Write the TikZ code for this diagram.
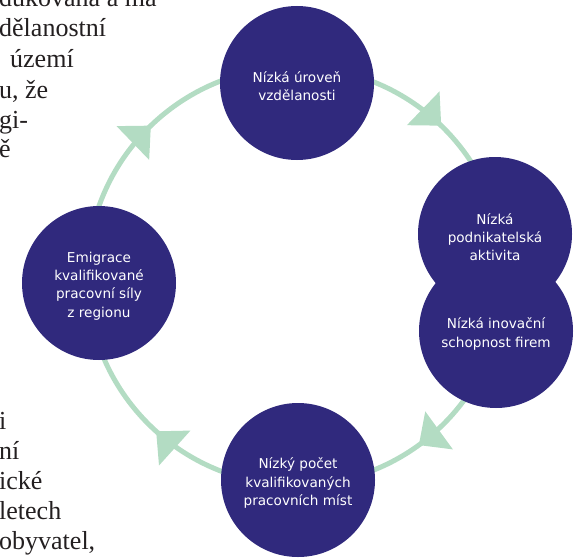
\documentclass[tikz,border=0pt]{standalone}
\usepackage{fontspec}
\setmainfont{Liberation Serif}
\newfontfamily\circfont{DejaVu Sans}
\definecolor{navy}{HTML}{30297D}
\definecolor{ringgreen}{HTML}{B3DCC3}
\definecolor{bodytext}{HTML}{231F20}
\tikzset{
  bubble/.style={circle, fill=navy, minimum size=154pt, inner sep=0pt},
  bubbletext/.style={text=white, align=center, yshift=-3pt, font=\circfont\fontsize{13.6}{18.3}\selectfont},
  ringline/.style={draw=ringgreen, line width=5pt},
  ringhead/.style={fill=ringgreen},
  pagetext/.style={text=bodytext, inner sep=0pt, anchor=base west, font=\fontsize{26}{30}\selectfont}
}
\begin{document}
\begin{tikzpicture}[x=1pt,y=1pt]
\useasboundingbox (0,0) rectangle (585,558);
\clip (0,0) rectangle (585,558);
% cut-off page text on the left
\node[pagetext] (t1) at (-1,551) {dukována a má};
\node[pagetext] (t2) at (-1,521) {dělanostní};
\node[pagetext] (t3) at (10,490) {území};
\node[pagetext] (t4) at (-1,459) {u, že};
\node[pagetext] (t5) at (-1,430) {gi-};
\node[pagetext] (t6) at (-1,401) {ě};
\node[pagetext] (b1) at (-1,129) {i};
\node[pagetext] (b2) at (-1,99) {ní};
\node[pagetext] (b3) at (-1,69) {ické};
\node[pagetext] (b4) at (-1,39) {letech};
\node[pagetext] (b5) at (-1,9) {obyvatel,};
% ring
\coordinate (ringc) at (296,282);
\draw[ringline] (ringc) circle[radius=209];
\foreach \a in {46,-54,-132,134}
  \fill[ringhead, shift={(ringc)}, rotate=\a] (209,0) -- (232.5,25) -- (185.5,25) -- cycle;
% circles
\node[bubble] (inov) at (496,227) {};
\node[bubble] (podnik) at (495,324) {};
\node[bubble] (top) at (297,475) {};
\node[bubble] (bottom) at (298,78) {};
\node[bubble] (left) at (99,275) {};
% texts
\node[bubbletext] at (top) {Nízká úroveň\\vzdělanosti};
\node[bubbletext] at (podnik) {Nízká\\podnikatelská\\aktivita};
\node[bubbletext] at (inov) {Nízká inovační\\schopnost firem};
\node[bubbletext] at (bottom) {Nízký počet\\kvalifikovaných\\pracovních míst};
\node[bubbletext] at (left) {Emigrace\\kvalifikované\\pracovní síly\\z regionu};
\end{tikzpicture}
\end{document}
